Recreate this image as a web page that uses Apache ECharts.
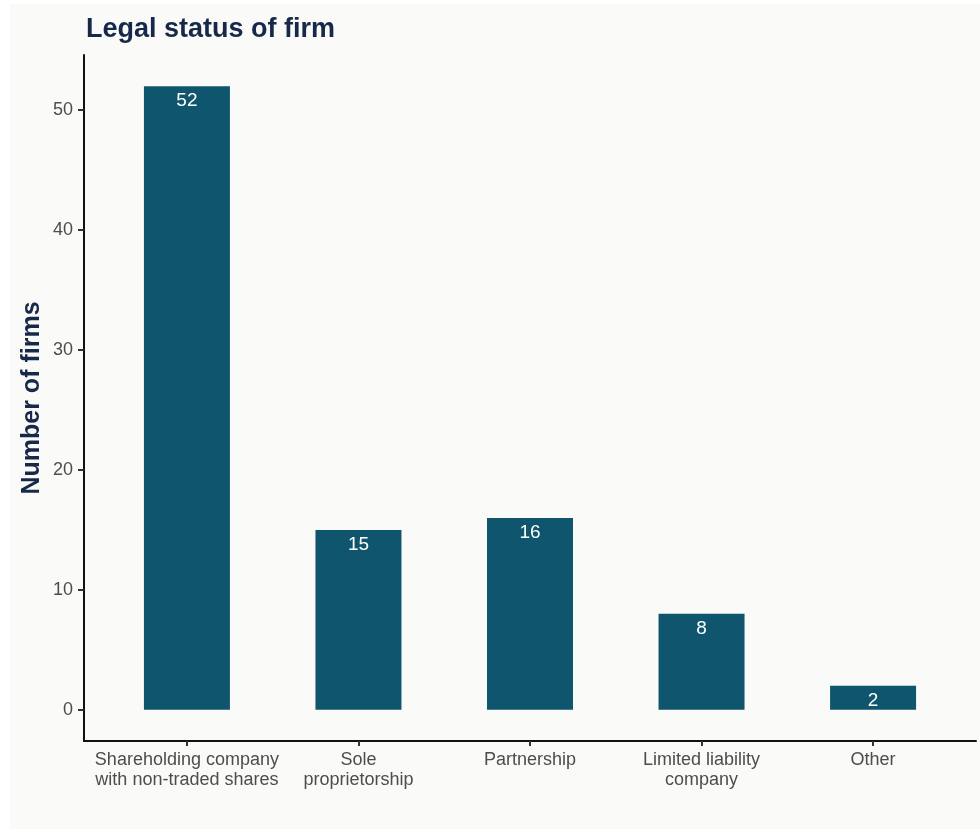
<!DOCTYPE html>
<html><head><meta charset="utf-8">
<script src="https://cdn.jsdelivr.net/npm/echarts@6/dist/echarts.min.js"></script>
<style>
html,body{margin:0;padding:0;background:#ffffff;}
#wrap{position:absolute;left:10px;top:4px;width:970px;height:825px;background:#fafaf8;}
#c{position:absolute;left:0;top:0;width:980px;height:830px;}
</style></head>
<body><div id="wrap"></div><div id="c"></div>
<script>
const categories = ["Shareholding company\nwith non-traded shares", "Sole\nproprietorship", "Partnership", "Limited liability\ncompany", "Other"];
const counts = [52, 15, 16, 8, 2];
const yTicks = [0, 10, 20, 30, 40, 50];
const xTicks = [0, 1, 2, 3, 4];

const chart = echarts.init(document.getElementById('c'), null, {renderer: 'canvas'});
chart.setOption({
  backgroundColor: 'transparent',
  animation: false,
  title: {
    text: 'Legal status of firm', left: 81, top: 11,
    textStyle: {fontFamily: 'Liberation Sans', fontWeight: 'bold', fontSize: 27, color: '#16294a'}
  },
  grid: {left: 84, right: 4, top: 55, bottom: 89, containLabel: false},
  xAxis: {
    type: 'value', min: -0.6, max: 4.6,
    splitLine: {show: false},
    axisLine: {show: true, onZero: false, lineStyle: {color: '#111', width: 2}},
    axisTick: {show: true, length: 5, customValues: xTicks, lineStyle: {color: '#333', width: 2}},
    axisLabel: {customValues: xTicks, margin: 9, color: '#4d4d4d', fontFamily: 'Liberation Sans', fontSize: 18, lineHeight: 20,
      formatter: v => categories[Math.round(v)] }
  },
  yAxis: {
    type: 'value', min: -2.6, max: 54.6,
    name: 'Number of firms', nameLocation: 'middle', nameGap: 39, nameMoveOverlap: false, nameRotate: 90,
    nameTextStyle: {fontFamily: 'Liberation Sans', fontWeight: 'bold', fontSize: 25, color: '#16294a'},
    splitLine: {show: false},
    axisLine: {show: true, onZero: false, lineStyle: {color: '#111', width: 2}},
    axisTick: {show: true, length: 6, customValues: yTicks, lineStyle: {color: '#333', width: 2}},
    axisLabel: {customValues: yTicks, margin: 11, color: '#4d4d4d', fontFamily: 'Liberation Sans', fontSize: 18}
  },
  series: [{
    type: 'bar',
    data: counts.map((v, i) => [i, v]),
    barWidth: 86,
    itemStyle: {color: '#0e556d'},
    label: {show: true, position: 'insideTop', distance: 5, color: '#ffffff', fontFamily: 'Liberation Sans', fontSize: 19}
  }]
});
</script></body></html>
